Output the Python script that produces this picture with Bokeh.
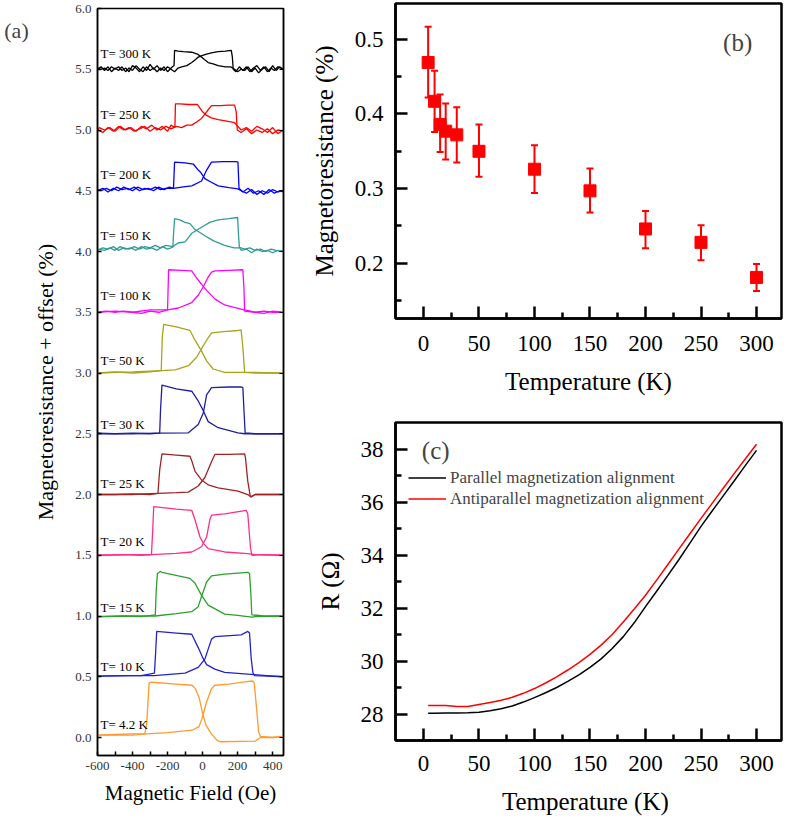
from bokeh.plotting import figure
from bokeh.layouts import row, column
from bokeh.models import (Range1d, FixedTicker, PrintfTickFormatter, LinearAxis, Label,
                          Whisker, TeeHead, ColumnDataSource, CustomJSTickFormatter)
from bokeh.embed import file_html
from bokeh.resources import INLINE
from bokeh.core.properties import value

SERIF = "Liberation Serif"

# ---------------- Panel (a): MR loops (H in Oe, MR in %) ----------------
T300_down = [(460, 0.0), (440, 0.02), (420, -0.01), (400, 0.03), (380, -0.02), (360, 0.02), (340, 0.0),
             (320, -0.03), (300, 0.01), (280, -0.02), (260, 0.02), (240, -0.01), (220, 0.0), (200, -0.02),
             (183, 0.0), (160, 0.02), (130, 0.02), (89, 0.03), (60, 0.045), (32, 0.055), (10, 0.08),
             (-6, 0.10), (-30, 0.125), (-62, 0.14), (-110, 0.145), (-140, 0.15), (-160, 0.155), (-163, 0.03),
             (-180, 0.01), (-200, -0.02), (-220, 0.02), (-240, -0.01), (-260, 0.03), (-280, 0.0), (-300, 0.04),
             (-320, -0.01), (-340, 0.02), (-360, -0.02), (-380, 0.01), (-400, 0.03), (-420, -0.02), (-440, 0.01),
             (-460, -0.01), (-480, 0.02), (-500, 0.0), (-520, 0.02), (-540, -0.01), (-560, 0.01), (-580, 0.0),
             (-600, 0.01)]
T300_up = [(-600, 0.0), (-580, 0.02), (-560, -0.01), (-540, 0.02), (-520, -0.02), (-500, 0.01), (-480, -0.01),
           (-460, 0.02), (-440, -0.02), (-420, 0.01), (-400, -0.01), (-380, 0.03), (-360, 0.0), (-340, -0.02),
           (-320, 0.02), (-300, -0.01), (-280, 0.01), (-260, -0.02), (-240, 0.01), (-220, -0.01), (-200, 0.02),
           (-180, 0.0), (-160, -0.02), (-140, 0.01), (-119, 0.02), (-90, 0.03), (-62, 0.055), (-40, 0.08),
           (-25, 0.10), (0, 0.115), (23, 0.125), (50, 0.135), (89, 0.145), (130, 0.15), (164, 0.155),
           (170, 0.1), (175, 0.0), (190, -0.02), (210, 0.02), (230, -0.01), (250, 0.02), (270, -0.02),
           (290, 0.01), (310, 0.03), (330, -0.01), (350, 0.02), (370, -0.02), (390, 0.01), (410, -0.01),
           (430, 0.02), (460, 0.0)]

T250_down = [(460, 0.0), (430, -0.03), (400, 0.02), (370, -0.02), (340, 0.01), (310, 0.03), (280, -0.01),
             (250, 0.02), (220, 0.0), (195, 0.04), (183, 0.06), (130, 0.075), (89, 0.085), (50, 0.1),
             (23, 0.12), (0, 0.15), (-20, 0.19), (-30, 0.21), (-80, 0.21), (-130, 0.215), (-155, 0.215),
             (-158, 0.02), (-180, 0.04), (-200, -0.01), (-230, 0.03), (-260, 0.0), (-290, 0.04), (-320, 0.01),
             (-350, 0.03), (-380, -0.01), (-410, 0.02), (-440, 0.0), (-470, 0.03), (-500, -0.01), (-530, 0.02),
             (-560, 0.0), (-590, 0.02), (-600, 0.0)]
T250_up = [(-600, 0.0), (-570, -0.02), (-540, 0.02), (-510, -0.01), (-480, 0.03), (-450, 0.0), (-420, 0.02),
           (-390, -0.01), (-360, 0.01), (-330, 0.03), (-300, -0.01), (-270, 0.02), (-240, 0.0), (-210, 0.03),
           (-180, 0.01), (-150, 0.03), (-120, 0.02), (-90, 0.04), (-62, 0.04), (-30, 0.07), (-6, 0.095),
           (23, 0.15), (51, 0.2), (100, 0.2), (150, 0.205), (183, 0.205), (192, 0.15), (198, 0.0),
           (220, -0.02), (250, 0.01), (280, -0.03), (310, 0.0), (340, -0.02), (370, 0.01), (400, -0.03),
           (430, 0.0), (460, -0.01)]

T200_down = [(460, 0.0), (430, -0.01), (400, 0.01), (370, -0.02), (340, 0.0), (310, -0.03), (280, 0.01),
             (250, -0.02), (220, 0.0), (202, 0.015), (150, 0.025), (89, 0.04), (50, 0.07), (13, 0.10),
             (-10, 0.15), (-25, 0.17), (-53, 0.22), (-100, 0.23), (-160, 0.235), (-166, 0.02), (-190, 0.03),
             (-220, 0.01), (-250, 0.03), (-280, 0.0), (-310, 0.02), (-340, 0.01), (-370, 0.03), (-400, 0.0),
             (-430, 0.02), (-460, 0.01), (-490, 0.03), (-520, 0.0), (-550, 0.02), (-580, 0.0), (-600, 0.01)]
T200_up = [(-600, 0.0), (-570, 0.02), (-540, -0.01), (-510, 0.02), (-480, 0.0), (-450, 0.03), (-420, 0.01),
           (-390, 0.03), (-360, 0.0), (-330, 0.02), (-300, 0.01), (-270, 0.03), (-240, 0.01), (-210, 0.02),
           (-166, 0.02), (-120, 0.03), (-62, 0.04), (-6, 0.08), (23, 0.17), (51, 0.235), (120, 0.24),
           (192, 0.24), (202, 0.235), (208, 0.02), (230, -0.01), (260, 0.02), (290, -0.02), (320, 0.0),
           (350, -0.03), (380, 0.01), (410, -0.02), (440, 0.0), (460, -0.01)]

T150_down = [(460, 0.0), (430, 0.01), (400, -0.01), (370, 0.01), (340, 0.0), (310, 0.02), (280, -0.01),
             (250, 0.02), (220, 0.01), (213, 0.03), (180, 0.03), (126, 0.05), (60, 0.09), (13, 0.13),
             (-20, 0.16), (-43, 0.18), (-72, 0.23), (-100, 0.24), (-130, 0.26), (-160, 0.27), (-166, 0.14),
             (-170, 0.035), (-200, 0.02), (-230, 0.04), (-260, 0.01), (-290, 0.03), (-320, 0.02), (-350, 0.04),
             (-380, 0.01), (-410, 0.03), (-440, 0.02), (-470, 0.04), (-500, 0.01), (-530, 0.03), (-560, 0.01),
             (-600, 0.02)]
T150_up = [(-600, 0.01), (-570, 0.03), (-540, 0.02), (-510, 0.04), (-480, 0.01), (-450, 0.03), (-420, 0.02),
           (-390, 0.04), (-360, 0.02), (-330, 0.04), (-300, 0.03), (-270, 0.05), (-240, 0.03), (-210, 0.05),
           (-170, 0.04), (-140, 0.07), (-100, 0.08), (-62, 0.15), (-6, 0.2), (41, 0.24), (89, 0.26),
           (150, 0.27), (200, 0.28), (205, 0.14), (210, 0.035), (240, 0.02), (270, 0.03), (300, 0.01),
           (330, 0.02), (360, 0.0), (390, 0.02), (420, 0.01), (460, 0.0)]

T100_down = [(460, 0.0), (400, 0.01), (350, -0.01), (300, 0.0), (240, 0.01), (236, 0.02), (180, 0.04),
             (126, 0.06), (70, 0.11), (23, 0.18), (-6, 0.23), (-43, 0.30), (-62, 0.34), (-120, 0.345),
             (-194, 0.35), (-200, 0.02), (-250, 0.0), (-300, 0.01), (-350, -0.01), (-400, 0.0), (-450, 0.01),
             (-500, 0.0), (-550, 0.01), (-600, 0.0)]
T100_up = [(-600, 0.0), (-500, 0.01), (-400, 0.0), (-300, 0.02), (-200, 0.02), (-138, 0.035), (-62, 0.08),
           (-25, 0.14), (4, 0.21), (32, 0.29), (51, 0.33), (70, 0.34), (150, 0.345), (230, 0.35), (236, 0.2),
           (240, 0.02), (300, 0.0), (350, 0.01), (400, 0.0), (460, 0.0)]

T50_down = [(460, 0.0), (400, 0.0), (300, 0.005), (200, 0.005), (126, 0.005), (60, 0.033), (23, 0.10),
            (-6, 0.18), (-43, 0.27), (-72, 0.35), (-150, 0.38), (-222, 0.40), (-230, 0.3), (-236, 0.02),
            (-300, 0.01), (-400, 0.0), (-500, 0.01), (-600, 0.0)]
T50_up = [(-600, 0.0), (-400, 0.01), (-236, 0.02), (-156, 0.025), (-81, 0.06), (-34, 0.13), (-6, 0.2),
          (32, 0.29), (51, 0.33), (120, 0.34), (202, 0.35), (220, 0.355), (230, 0.21), (240, 0.005),
          (300, 0.0), (400, 0.0), (460, 0.0)]

T30_down = [(460, 0.0), (300, 0.0), (240, 0.0), (202, 0.008), (89, 0.05), (32, 0.10), (4, 0.19), (-25, 0.27),
            (-62, 0.35), (-150, 0.37), (-232, 0.40), (-240, 0.2), (-245, 0.005), (-300, 0.0), (-400, 0.005),
            (-500, 0.0), (-600, 0.005)]
T30_up = [(-600, 0.0), (-400, 0.0), (-245, 0.005), (-81, 0.008), (-25, 0.077), (4, 0.17), (23, 0.32),
          (51, 0.38), (150, 0.385), (220, 0.385), (230, 0.38), (236, 0.2), (243, 0.008), (300, 0.0),
          (400, 0.0), (460, 0.0)]

T25_down = [(460, 0.0), (300, 0.0), (277, -0.02), (258, 0.0), (202, 0.027), (89, 0.055), (32, 0.08),
            (-6, 0.12), (-43, 0.19), (-60, 0.27), (-72, 0.315), (-150, 0.325), (-232, 0.335), (-245, 0.2),
            (-255, 0.01), (-300, 0.0), (-400, 0.005), (-500, 0.0), (-600, 0.0)]
T25_up = [(-600, 0.0), (-400, 0.0), (-255, 0.01), (-150, 0.015), (-81, 0.02), (-25, 0.07), (13, 0.14),
          (51, 0.27), (70, 0.33), (150, 0.33), (240, 0.335), (245, 0.3), (258, 0.11), (273, -0.02),
          (300, 0.0), (400, 0.0), (460, 0.0)]

T20_down = [(460, 0.0), (300, 0.005), (258, 0.014), (126, 0.027), (32, 0.055), (4, 0.10), (-15, 0.15),
            (-43, 0.29), (-62, 0.37), (-150, 0.38), (-279, 0.40), (-285, 0.2), (-292, 0.005), (-350, 0.0),
            (-450, 0.005), (-600, 0.0)]
T20_up = [(-600, 0.0), (-400, 0.005), (-292, 0.005), (-150, 0.015), (-62, 0.027), (-6, 0.07), (23, 0.15),
          (41, 0.29), (51, 0.33), (126, 0.34), (249, 0.37), (258, 0.34), (273, 0.07), (281, 0.0),
          (350, 0.005), (460, 0.0)]

T15_down = [(460, 0.0), (300, -0.005), (281, -0.01), (200, 0.005), (126, 0.016), (32, 0.09), (-6, 0.17),
            (-43, 0.27), (-72, 0.31), (-138, 0.33), (-232, 0.36), (-241, 0.367), (-258, 0.35), (-265, 0.2),
            (-270, 0.01), (-350, -0.005), (-450, 0.0), (-600, -0.005)]
T15_up = [(-600, -0.005), (-400, 0.0), (-270, 0.0), (-150, 0.02), (-62, 0.036), (-25, 0.077), (-6, 0.16),
          (23, 0.28), (51, 0.33), (126, 0.345), (258, 0.36), (268, 0.35), (275, 0.2), (281, 0.01),
          (350, 0.0), (460, 0.0)]

T10_down = [(460, 0.0), (370, 0.01), (277, 0.02), (126, 0.036), (70, 0.063), (23, 0.10), (0, 0.16),
            (-25, 0.24), (-62, 0.35), (-150, 0.36), (-262, 0.373), (-268, 0.2), (-275, 0.03), (-350, 0.01),
            (-450, 0.01), (-600, 0.005)]
T10_up = [(-600, 0.005), (-400, 0.01), (-275, 0.01), (-100, 0.03), (-25, 0.077), (13, 0.145), (51, 0.31),
          (70, 0.33), (220, 0.345), (258, 0.373), (268, 0.36), (277, 0.16), (287, 0.035), (296, 0.01),
          (370, 0.005), (460, 0.0)]

T4_down = [(460, 0.01), (400, 0.0), (330, 0.0), (300, -0.03), (100, -0.035), (80, -0.02), (50, 0.03),
           (20, 0.10), (0, 0.20), (-20, 0.33), (-40, 0.40), (-60, 0.43), (-150, 0.44), (-290, 0.455),
           (-305, 0.45), (-320, 0.1), (-330, 0.03), (-400, 0.03), (-500, 0.025), (-600, 0.02)]
T4_up = [(-600, 0.02), (-400, 0.02), (-320, 0.03), (-200, 0.04), (-60, 0.06), (-20, 0.09), (0, 0.17),
         (20, 0.28), (50, 0.40), (70, 0.43), (150, 0.44), (250, 0.46), (285, 0.465), (295, 0.45),
         (320, 0.05), (330, 0.01), (400, 0.0), (460, 0.01)]

loop_labels = ["T= 300 K", "T= 250 K", "T= 200 K", "T= 150 K", "T= 100 K", "T= 50 K",
               "T= 30 K", "T= 25 K", "T= 20 K", "T= 15 K", "T= 10 K", "T= 4.2 K"]
loop_offsets = [5.5, 5.0, 4.5, 4.0, 3.5, 3.0, 2.5, 2.0, 1.5, 1.0, 0.5, 0.0]
loop_down = [T300_down, T250_down, T200_down, T150_down, T100_down, T50_down,
             T30_down, T25_down, T20_down, T15_down, T10_down, T4_down]
loop_up = [T300_up, T250_up, T200_up, T150_up, T100_up, T50_up,
           T30_up, T25_up, T20_up, T15_up, T10_up, T4_up]
loop_colors = ["#000000", "#ff0000", "#0000ff", "#2f9c96", "#ff00ff", "#a8a41c",
               "#1f1f9f", "#a02424", "#ff2d8c", "#2ca02c", "#2323cc", "#ff9a2e"]
label_lift = [0.13, 0.125, 0.13, 0.13, 0.14, 0.10, 0.08, 0.09, 0.11, 0.07, 0.085, 0.11]

a_xticks = [-600, -400, -200, 0, 200, 400]
a_xminor = [-500, -300, -100, 100, 300]
a_yticks = [0.0, 0.5, 1.0, 1.5, 2.0, 2.5, 3.0, 3.5, 4.0, 4.5, 5.0, 5.5, 6.0]

# ---------------- Panel (b): MR vs T ----------------
T_b = [4.2, 10, 15, 20, 30, 50, 100, 150, 200, 250, 300]
MR_b = [0.469, 0.417, 0.386, 0.377, 0.372, 0.350, 0.326, 0.297, 0.246, 0.228, 0.181]
MR_b_lo = [0.422, 0.376, 0.349, 0.339, 0.335, 0.316, 0.294, 0.268, 0.220, 0.204, 0.163]
MR_b_hi = [0.517, 0.458, 0.426, 0.414, 0.409, 0.386, 0.358, 0.327, 0.270, 0.251, 0.199]

# ---------------- Panel (c): R vs T ----------------
T_c = [4.2, 10, 20, 30, 40, 50, 60, 70, 80, 90, 100, 110, 120, 130, 140, 150, 160, 170, 180, 190,
       200, 210, 220, 230, 240, 250, 260, 270, 280, 290, 300]
R_par = [28.03, 28.03, 28.04, 28.04, 28.05, 28.07, 28.12, 28.2, 28.3, 28.45, 28.62, 28.8, 29.0, 29.23,
         29.48, 29.76, 30.08, 30.47, 30.92, 31.45, 32.05, 32.63, 33.22, 33.82, 34.45, 35.08, 35.66,
         36.23, 36.8, 37.38, 37.95]
R_anti = [28.32, 28.32, 28.32, 28.28, 28.28, 28.36, 28.43, 28.52, 28.63, 28.78, 28.96, 29.17, 29.4,
          29.66, 29.94, 30.25, 30.6, 31.0, 31.47, 31.97, 32.48, 33.05, 33.63, 34.22, 34.8, 35.38, 35.95,
          36.52, 37.08, 37.63, 38.18]

T_ticks = [0, 50, 100, 150, 200, 250, 300]
T_minor = [25, 75, 125, 175, 225, 275]
b_yticks = [0.2, 0.3, 0.4, 0.5]
b_yminor = [0.15, 0.25, 0.35, 0.45]
c_yticks = [28, 30, 32, 34, 36, 38]
c_yminor = [29, 31, 33, 35, 37]


def style_axis(ax, font_px, title_px, tick_in, minor_in, width, label_standoff, title_standoff, color="black"):
    ax.major_tick_in = tick_in
    ax.major_tick_out = 0
    ax.minor_tick_in = minor_in
    ax.minor_tick_out = 0
    ax.major_tick_line_width = width
    ax.minor_tick_line_width = width
    ax.axis_line_width = width
    ax.major_label_text_font = SERIF
    ax.major_label_text_font_size = font_px
    ax.major_label_text_color = color
    ax.axis_label_text_font = SERIF
    ax.axis_label_text_font_size = title_px
    ax.axis_label_text_font_style = "normal"
    ax.axis_label_text_color = "black"
    ax.major_label_standoff = label_standoff
    ax.axis_label_standoff = title_standoff


# frame geometry of panel (a) (pixels)
A_TOP, A_BOTTOM_BORDER, A_HEIGHT = 8, 69, 824
A_FRAME_BOTTOM = A_HEIGHT - A_BOTTOM_BORDER

# ---------- narrow strip carrying the "(a)" panel tag (frame aligned with panel a) ----------
ptag = figure(width=30, height=A_HEIGHT, x_range=Range1d(0, 1), y_range=Range1d(0, 1),
              output_backend="svg", toolbar_location=None, x_axis_location=None, y_axis_location=None,
              min_border_left=0, min_border_right=0, min_border_top=A_TOP, min_border_bottom=A_BOTTOM_BORDER)
ptag.grid.visible = False
ptag.outline_line_color = None
ptag.add_layout(Label(x=16, y=A_FRAME_BOTTOM - 30, x_units="screen", y_units="screen", text="(a)",
                      text_font=SERIF, text_font_size="22px", text_align="center",
                      text_baseline="middle"))

# ---------- figure (a) ----------
pa = figure(width=260, height=A_HEIGHT, x_range=Range1d(-600, 462), y_range=Range1d(-0.148, 6.0),
            output_backend="svg", toolbar_location=None,
            min_border_left=65, min_border_right=7, min_border_top=A_TOP, min_border_bottom=A_BOTTOM_BORDER)
pa.grid.visible = False
pa.outline_line_color = "black"
pa.outline_line_width = 1.5
pa.xaxis.ticker = FixedTicker(ticks=a_xticks, minor_ticks=a_xminor)
pa.xaxis.formatter = PrintfTickFormatter(format="%d")
pa.yaxis.ticker = FixedTicker(ticks=a_yticks)
pa.yaxis.formatter = PrintfTickFormatter(format="%.1f")
pa.xaxis.axis_label = "Magnetic Field (Oe)"
pa.yaxis.axis_label = "Magnetoresistance + offset (%)"
style_axis(pa.xaxis[0], "13px", "21px", 4, 4, 1.5, 6, 8, "#333333")
style_axis(pa.yaxis[0], "13px", "22px", 4, 0, 1.5, 6, 14, "#333333")

right_ax = LinearAxis(ticker=FixedTicker(ticks=a_yticks),
                      formatter=CustomJSTickFormatter(code="return ''"))
right_ax.major_tick_in = 4
right_ax.major_tick_out = 0
right_ax.minor_tick_in = 0
right_ax.minor_tick_out = 0
right_ax.axis_line_width = 1.5
right_ax.major_label_standoff = 0
right_ax.major_label_text_font_size = "1px"
pa.add_layout(right_ax, "right")

for pts_d, pts_u, off, col in zip(loop_down, loop_up, loop_offsets, loop_colors):
    for pts in (pts_d, pts_u):
        xs = [h for h, m in pts]
        ys = [m + off for h, m in pts]
        pa.line(xs, ys, line_color=col, line_width=1.3)

pa.text(x=[-583] * len(loop_labels), y=[o + d for o, d in zip(loop_offsets, label_lift)],
        text=loop_labels, text_font=value(SERIF), text_font_size="13px",
        text_baseline="middle", text_align="left", text_color="black")

# ---------- figure (b) ----------
pb = figure(width=495, height=405, x_range=Range1d(-25.2, 322.5), y_range=Range1d(0.126, 0.548),
            output_backend="svg", toolbar_location=None,
            min_border_left=105, min_border_right=4, min_border_top=3, min_border_bottom=87)
pb.grid.visible = False
pb.outline_line_color = "black"
pb.outline_line_width = 2.5
pb.xaxis.ticker = FixedTicker(ticks=T_ticks, minor_ticks=T_minor)
pb.xaxis.formatter = PrintfTickFormatter(format="%d")
pb.yaxis.ticker = FixedTicker(ticks=b_yticks, minor_ticks=b_yminor)
pb.yaxis.formatter = PrintfTickFormatter(format="%.1f")
pb.xaxis.axis_label = "Temperature (K)"
pb.yaxis.axis_label = "Magnetoresistance (%)"
style_axis(pb.xaxis[0], "23px", "25px", 12, 6, 2.5, 17, 14)
style_axis(pb.yaxis[0], "23px", "25px", 12, 6, 2.5, 12, 14)

src_b = ColumnDataSource(dict(T=T_b, mr=MR_b, lo=MR_b_lo, hi=MR_b_hi))
pb.add_layout(Whisker(base="T", upper="hi", lower="lo", source=src_b, line_color="#ff0000", line_width=2,
                      upper_head=TeeHead(size=7, line_color="#ff0000", line_width=2),
                      lower_head=TeeHead(size=7, line_color="#ff0000", line_width=2)))
pb.scatter("T", "mr", source=src_b, marker="square", size=12, fill_color="#ff0000", line_color="#ff0000")
pb.add_layout(Label(x=283, y=0.496, text="(b)", text_font=SERIF, text_font_size="25px",
                    text_align="center", text_baseline="middle"))

# ---------- figure (c) ----------
pc = figure(width=495, height=419, x_range=Range1d(-25.2, 322.5), y_range=Range1d(27, 39),
            output_backend="svg", toolbar_location=None,
            min_border_left=105, min_border_right=4, min_border_top=17, min_border_bottom=84)
pc.grid.visible = False
pc.outline_line_color = "black"
pc.outline_line_width = 2.5
pc.xaxis.ticker = FixedTicker(ticks=T_ticks, minor_ticks=T_minor)
pc.xaxis.formatter = PrintfTickFormatter(format="%d")
pc.yaxis.ticker = FixedTicker(ticks=c_yticks, minor_ticks=c_yminor)
pc.yaxis.formatter = PrintfTickFormatter(format="%d")
pc.xaxis.axis_label = "Temperature  (K)"
pc.yaxis.axis_label = "R (\u03a9)"
style_axis(pc.xaxis[0], "23px", "25px", 12, 6, 2.5, 15, 14)
style_axis(pc.yaxis[0], "23px", "25px", 12, 6, 2.5, 12, 14)

pc.line(T_c, R_par, line_color="black", line_width=1.5, legend_label="Parallel magnetization alignment")
pc.line(T_c, R_anti, line_color="#ff0000", line_width=1.5, legend_label="Antiparallel magnetization alignment")
lg = pc.legend[0]
lg.location = (13, 231)
lg.glyph_width = 38
lg.glyph_height = 21
lg.label_height = 21
lg.label_standoff = 4
lg.spacing = 0
lg.padding = 0
lg.margin = 0
lg.border_line_color = None
lg.background_fill_alpha = 0
lg.label_text_font = SERIF
lg.label_text_font_size = "17px"
pc.add_layout(Label(x=11, y=37.95, text="(c)", text_font=SERIF, text_font_size="25px",
                    text_align="center", text_baseline="middle"))

p = row(ptag, pa, column(pb, pc))
open("out.html", "w").write(file_html(p, INLINE))
